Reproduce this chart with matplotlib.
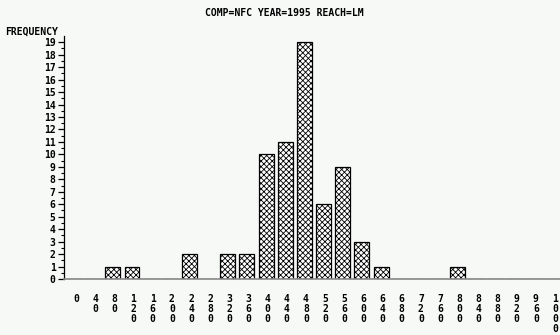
import matplotlib
matplotlib.use("Agg")
import matplotlib.pyplot as plt

# midpoints of the histogram classes and their counts
midpoints = [0, 40, 80, 120, 160, 200, 240, 280, 320, 360, 400, 440, 480,
             520, 560, 600, 640, 680, 720, 760, 800, 840, 880, 920, 960, 1000]
frequency = [0, 0, 1, 1, 0, 0, 2, 0, 2, 2, 10, 11, 19,
             6, 9, 3, 1, 0, 0, 0, 1, 0, 0, 0, 0, 0]
title = "COMP=NFC YEAR=1995 REACH=LM"

bg = "#f6f9f6"
plt.rcParams["hatch.linewidth"] = 0.6
font = dict(family="DejaVu Sans Mono", weight="bold", size=7)

fig = plt.figure(figsize=(5.6, 3.35), dpi=100, facecolor=bg)
ax = fig.add_axes([64 / 560, 56 / 335, 496 / 560, 243 / 335], facecolor=bg)

pos = list(range(len(midpoints)))
ax.bar([p - 0.08 for p in pos], frequency, width=0.78, color="white",
       edgecolor="black", linewidth=0.9, hatch="xxxxxx")

ax.set_xlim(-0.63, 25.26)
ax.set_ylim(0, 19.5)

# vertical digit labels, one character per line
ax.set_xticks(pos)
ax.set_xticklabels(["\n".join(str(m)) for m in midpoints], va="top",
                   linespacing=1.0, **font)
ax.tick_params(axis="x", length=0, pad=11)

ax.set_yticks(range(0, 20))
ax.set_yticks([i + 0.5 for i in range(19)], minor=True)
ax.set_yticklabels([str(i) for i in range(20)], **font)
ax.tick_params(axis="y", which="major", length=4, width=0.9, pad=2)
ax.tick_params(axis="y", which="minor", length=2, width=0.8)

for side in ("top", "right"):
    ax.spines[side].set_visible(False)
ax.spines["left"].set_linewidth(0.9)
ax.spines["bottom"].set_color("#888888")
ax.spines["bottom"].set_linewidth(1.2)

fig.text(284 / 560, 1 - 13 / 335, title, ha="center", va="center", **font)
fig.text(5 / 560, 1 - 32 / 335, "FREQUENCY", ha="left", va="center", **font)

fig.savefig("out.png", dpi=100, facecolor=bg)
